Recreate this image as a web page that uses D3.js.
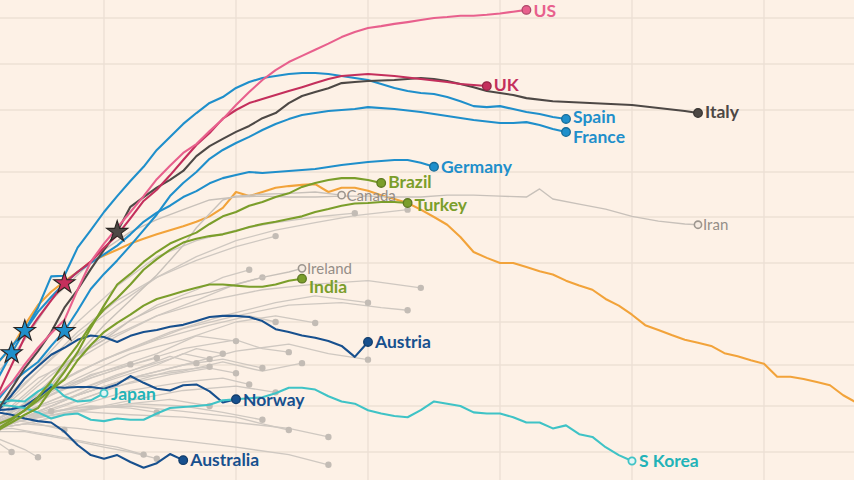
<!DOCTYPE html>
<html><head><meta charset="utf-8">
<script src="https://cdn.jsdelivr.net/npm/d3@7"></script>
<style>
html,body{margin:0;padding:0;background:#fdf1e6;overflow:hidden}
svg{display:block}
</style></head><body>
<svg id="c" width="854" height="480"></svg>
<script>
// ---------- DATA (days since 3 daily deaths, daily deaths on log scale) ----------
const xTicks = [10, 20, 30, 40, 50, 60];
const yTicks = [2000, 1000, 500, 200, 100, 50, 20, 10, 5, 2];

const US = [[0,3],[2,5.9],[3,7.4],[4,10.1],[5,13.2],[6,16.7],[7,20.6],[8,33],[9,51],[10,67],[11,85],[12,108],[13,138],[14,179],[15,219],[16,265],[17,302],[18,366],[19,437],[20,539],[21,655],[22,786],[23,913],[24,1030],[25,1130],[26,1240],[27,1360],[28,1500],[29,1620],[30,1720],[31,1770],[32,1830],[33,1880],[34,1940],[35,2000],[36,2030],[37,2070],[38,2070],[39,2100],[40,2140],[41,2200],[42,2260]];
const UK = [[0,3],[2,6.2],[4,15.7],[5,21.3],[6,28],[7,36.5],[8,43.5],[9,51],[10,63],[11,76],[12,98],[13,128],[14,152],[15,190],[16,239],[17,298],[18,356],[19,440],[20,500],[21,555],[22,590],[23,627],[24,665],[25,705],[26,750],[27,797],[28,835],[30,860],[32,835],[34,797],[36,762],[37,740],[38,729],[39,717]];
const Italy = [[0,3],[2,4.7],[4,9.5],[5,12.5],[6,17],[7,25],[8,33],[9,45.5],[10,61],[11,80],[12,117],[13,136],[14,157],[15,177],[16,203],[17,253],[18,293],[19,326],[20,362],[21,395],[22,443],[23,478],[24,555],[25,617],[26,655],[27,695],[28,750],[29,762],[30,774],[32,786],[34,810],[35,797],[36,774],[37,740],[38,705],[39,665],[40,646],[41,627],[42,598],[44,570],[46,560],[48,550],[50,539],[52,515],[54,493],[55,478]];
const Spain = [[0,3],[2,8.1],[3,12.1],[4,17.5],[5,25],[6,40.6],[7,41],[8,63],[9,82],[10,108],[11,138],[12,174],[13,216],[14,277],[15,336],[16,407],[17,478],[18,556],[19,608],[20,697],[21,762],[22,810],[23,835],[24,860],[25,873],[26,873],[27,860],[28,835],[29,810],[30,786],[31,740],[32,697],[33,665],[34,646],[35,637],[36,608],[37,570],[38,530],[39,522],[40,530],[41,507],[42,486],[43,471],[44,451],[45,438]];
const France = [[0,3],[2,5.6],[3,7.4],[4,8.9],[5,10.5],[6,13.6],[7,17.3],[8,23.8],[9,33.4],[10,42.2],[11,52],[12,65],[13,82],[14,104],[15,138],[16,169],[17,200],[18,243],[19,277],[20,307],[21,336],[22,372],[23,407],[24,437],[25,464],[26,478],[27,493],[28,500],[29,507],[30,522],[32,507],[34,486],[36,457],[38,431],[40,413],[41,413],[42,418],[43,401],[44,378],[45,361]];
const Germany = [[0,3],[2,10.5],[4,17.3],[5,23.4],[6,29.5],[7,36.5],[8,43.5],[9,50],[10,57],[11,65],[12,77],[13,93],[14,107],[15,119],[16,136],[17,149],[18,168],[19,182],[20,191],[21,200],[22,197],[24,203],[26,209],[28,222],[30,232],[32,239],[33,239],[34,229],[35,216]];
const Brazil = [[0,3],[2,3.1],[3,3.6],[4,4.2],[5,4.8],[6,6.6],[7,8.9],[8,12.3],[9,18.2],[10,25.8],[11,35.8],[12,42.2],[13,50.8],[14,59],[15,67],[16,73],[17,79],[18,90],[19,101],[20,108],[21,119],[22,126],[23,136],[24,144],[25,159],[26,169],[27,177],[28,182],[29,182],[30,177],[31,169]];
const Turkey = [[0,3],[2,3.2],[3,3.8],[4,4.6],[5,5.8],[6,7.6],[7,10.4],[8,13.8],[9,19],[10,24.3],[11,29],[12,35.8],[13,45],[14,53],[15,61],[16,68],[17,72],[18,75],[19,77],[20,81],[21,86],[22,90],[23,93],[24,97],[25,101],[26,108],[27,113],[28,119],[29,123],[30,124],[31,126],[32,126],[33,124]];
const India = [[0,3],[2,3.5],[3,3.9],[4,4.6],[5,5.5],[6,6.6],[7,7.8],[8,10.8],[9,13.8],[10,17],[11,19.7],[12,22.4],[13,25.8],[14,28.6],[15,30.3],[16,32.2],[17,34],[18,35.8],[19,35.8],[20,35.2],[21,34.6],[22,34.6],[23,35.8],[24,38],[25,39.2]];
const Canada = [[0,3],[2,3],[4,4.6],[6,7.1],[8,11.8],[10,19],[12,28],[14,41.5],[16,65],[17,85],[18,105],[19,130],[20,138],[22,142],[24,144],[26,147],[28,140]];
const Iran = [[0,3],[2,8.9],[4,15],[6,28],[8,41.5],[10,61],[12,80],[14,96],[16,112],[18,130],[20,136],[22,138],[24,136],[26,136],[28,138],[30,138],[32,136],[34,136],[36,140],[38,140],[40,138],[42,136],[43,154],[44,132],[46,122],[48,113],[50,101],[52,94],[54,90],[55,89]];
const Ireland = [[0,3],[2,3.1],[4,5.1],[6,7.8],[8,11.8],[10,15],[12,20.6],[14,25],[16,29],[18,31.8],[20,35.8],[22,40],[24,43.5],[25,46]];
const Austria = [[0,3],[2,4.6],[3,6],[4,8],[5,9.8],[6,11.8],[7,13.2],[8,15],[9,16.1],[10,15.7],[11,14.5],[12,16],[13,17],[14,17.6],[15,18.5],[16,19.1],[17,20.3],[18,21.6],[19,22],[20,22],[21,21.6],[22,20.3],[23,17.8],[24,17],[25,16.1],[26,15.5],[27,14.7],[28,13.6],[29,11.4],[30,14.5]];
const Norway = [[0,3],[2,4.6],[3,4.7],[4,5],[5,5.8],[6,6.9],[7,6.8],[8,6.9],[9,6.9],[10,6.7],[11,7.2],[12,8.3],[13,7.4],[14,6.7],[15,6.5],[16,7.1],[17,7.2],[18,6.4],[19,5.3],[20,5.6]];
const Japan = [[0,3],[2,5.3],[3,5.5],[4,5.4],[5,6.4],[6,7.2],[7,5.9],[8,5.4],[9,5.5],[10,6.2]];
const SKorea = [[0,3],[2,5.1],[3,5],[4,4.8],[5,4.4],[6,3.9],[7,4.2],[8,4.3],[9,3.8],[10,3.7],[11,3.9],[12,3.8],[13,3.8],[14,4.3],[15,4.8],[16,4.9],[17,5],[18,5.1],[19,5.5],[20,5.6],[21,5.7],[22,5.8],[23,6.2],[24,6.8],[25,6.8],[26,6.6],[27,5.9],[28,5.4],[29,5.2],[30,4.6],[31,4.3],[32,4.1],[33,4],[34,4.6],[35,5.4],[36,5.2],[37,5],[38,4.4],[39,4.3],[40,4.3],[41,4],[42,3.6],[43,3.6],[44,3.2],[45,3.4],[46,2.85],[47,2.7],[48,2.2],[49,1.88],[50,1.67]];
const Australia = [[0,3],[2,4.4],[3,4.2],[4,3.9],[5,3.7],[6,3.6],[7,3],[8,2.3],[9,1.88],[10,1.75],[11,1.88],[12,1.64],[13,1.46],[14,1.6],[15,1.92],[16,1.7]];
const China = [[0,3],[2,10.5],[3,13.2],[4,19],[5,26],[6,32],[7,37.6],[8,43.5],[9,51],[10,56],[11,61],[12,67],[13,72],[14,77],[15,82],[16,87],[17,93],[18,101],[19,115],[20,147],[21,138],[22,147],[23,157],[24,161],[25,164],[26,166],[27,147],[28,157],[29,157],[30,150],[31,140],[32,132],[33,124],[34,112],[35,100],[36,89],[37,74],[38,59],[39,54],[40,50],[41,50],[42,47],[43,44],[44,41.8],[45,38],[46,35.2],[47,33],[48,28.6],[49,25.8],[50,22.4],[51,19],[52,17.6],[53,16.2],[54,15],[55,14.3],[56,13.6],[57,12.1],[58,11.5],[59,10.8],[60,10.2],[61,8.2],[62,8.2],[63,7.9],[64,7.5],[65,7.1],[66,6],[67,5.3],[68,4.8]];

// other (unlabelled) countries
const others = [
  [[0,3],[2,3.8],[5,7],[8,12],[11,18],[14,26],[17,33],[19,40],[21,45]],
  [[0,3],[2,4.5],[5,8],[8,11],[11,16],[14,22],[17,28],[20,36],[22,40]],
  [[0,3],[3,5],[6,9],[10,15],[14,22],[18,28],[22,33],[26,36],[30,38],[34,34]],
  [[0,3],[3,4.5],[7,8],[11,12],[15,17],[19,22],[23,27],[26,30],[30,27]],
  [[0,3],[4,5],[8,9],[12,13],[16,18],[20,22],[24,26],[28,27],[31,25],[33,24]],
  [[0,3],[3,4],[6,7],[10,11],[14,15],[18,19],[21,22],[23,20]],
  [[0,3],[4,5],[8,8],[12,12],[16,15],[20,20],[23,22],[26,19.7]],
  [[0,3],[3,4.5],[6,6.5],[10,9],[14,12],[17,16],[20,14.7]],
  [[0,3],[4,5],[8,7.5],[12,10],[16,13],[20,15],[22,13],[24,12.3]],
  [[0,3],[3,4],[7,6],[11,8.5],[15,11],[17,13],[19,12]],
  [[0,3],[3,3.6],[7,5.5],[10,7.5],[14,10],[16,12],[18,11]],
  [[0,3],[4,4.5],[8,6.5],[12,9],[15,11.5],[17,10.3]],
  [[0,3],[4,4],[8,5.5],[12,7.5],[15,9],[18,9.7]],
  [[0,3],[4,4],[8,6],[12,8],[16,10],[19,11],[22,9.5]],
  [[0,3],[4,4.5],[8,6],[12,8],[16,9],[19,10.5],[22,9],[25,10.3]],
  [[0,3],[4,4],[8,6],[12,8],[16,10],[20,12.5],[24,14],[27,12],[30,10.9]],
  [[0,3],[3,3.5],[7,5],[11,7],[15,8.5],[18,9.5],[20,8.7]],
  [[0,3],[4,3.8],[8,5],[12,6.5],[16,7.5],[19,8],[21,7.2]],
  [[0,3],[4,3.5],[8,4.5],[12,5.5],[16,6.5],[20,7],[23,6.3]],
  [[0,3],[4,3.5],[8,4.5],[12,5.2],[15,5.6],[18,5]],
  [[0,3],[3,3.5],[6,4.5],[9,5],[12,4.8],[14,4.4]],
  [[0,3],[3,3.8],[6,4.5]],
  [[0,3],[4,4],[8,4.8],[12,5],[16,4.5],[20,4],[22,3.5],[24,3.1]],
  [[0,3],[4,3.8],[8,4.5],[12,4.2],[16,4],[20,3.6],[24,3.2],[27,2.7]],
  [[0,3],[3,3.8],[5,3.5],[7,3.1]],
  [[0,3],[2,2.4],[3,2]],
  [[0,3],[2,2.6],[4,2.1],[5,1.8]],
  [[0,3],[3,3.2],[6,2.8],[9,2.4],[11,2.2],[13,1.9]],
  [[0,3],[4,3],[7,2.6],[10,2.2],[12,2],[14,1.75]],
  [[0,3],[4,3.5],[8,3.2],[12,2.8],[16,2.5],[20,2.2],[24,1.9],[27,1.55]],
  [[0,3],[2,5],[5,10],[8,20],[11,35],[14,55],[17,70],[20,82],[23,92],[26,100],[29,106]],
  [[0,3],[2,4.5],[5,9],[8,17],[11,28],[14,40],[17,52],[20,64],[23,75]],
  [[0,3],[3,4],[6,6],[9,8],[12,10],[14,11.2]],
  [[0,3],[3,4.2],[6,6],[9,8.5],[12,10.1]],
  [[0,3],[2,5],[5,9],[8,16],[11,26],[14,40],[17,55],[20,70],[23,82],[26,92],[29,102],[33,112]],
  [[0,3],[4,3.8],[8,4.6],[12,5.2],[16,5],[19,4.4],[22,3.8]]
];

// lockdown markers: country, day
const lockdownCountries = ["Spain", "Germany", "UK", "France", "Italy"];
const lockdownDays = [3, 4, 7, 7, 11];

// ---------- STYLES ----------
const BLUE = "#1f8fcb", NAVY = "#17508e", GREEN = "#7b9e2b", TEAL = "#3fc3c6",
      GREYLAB = "#958e88", ORANGE = "#f2a33a";

const named = [
  {name:"China", data:China, color:ORANGE, label:false},
  {name:"Canada", data:Canada, color:"#bdb6b0", grey:true, dy:0},
  {name:"Iran", data:Iran, color:"#bdb6b0", grey:true, dy:0},
  {name:"Ireland", data:Ireland, color:"#bdb6b0", grey:true, dy:0},
  {name:"Australia", data:Australia, color:NAVY, dy:0},
  {name:"Norway", data:Norway, color:NAVY, dy:0},
  {name:"Austria", data:Austria, color:NAVY, dy:0},
  {name:"S Korea", data:SKorea, color:TEAL, text:"#22b3b8", hollow:true, dy:0},
  {name:"Japan", data:Japan, color:TEAL, text:"#22b3b8", hollow:true, dy:0},
  {name:"India", data:India, color:GREEN, dy:8},
  {name:"Turkey", data:Turkey, color:GREEN, dy:1.5},
  {name:"Brazil", data:Brazil, color:GREEN, dy:-1},
  {name:"Germany", data:Germany, color:BLUE, dy:0},
  {name:"France", data:France, color:BLUE, dy:5},
  {name:"Spain", data:Spain, color:BLUE, dy:-2.5},
  {name:"Italy", data:Italy, color:"#4d4845", dy:-1},
  {name:"UK", data:UK, color:"#c42f5c", dy:-1},
  {name:"US", data:US, color:"#e8608d", dy:0.5}
];

// ---------- CHART ----------
const svg = d3.select("#c");
svg.append("rect").attr("width",854).attr("height",480).attr("fill","#fdf1e6");

const x = d3.scaleLinear().domain([xTicks[0], xTicks[xTicks.length-1]]).range([104, 764]);
const y = d3.scaleLog().domain(yTicks).range([18, 64, 110, 172, 217, 263, 322, 365, 406, 452]);

// grid
svg.append("g").selectAll("line").data(yTicks).join("line")
  .attr("x1",0).attr("x2",854).attr("y1",d=>y(d)).attr("y2",d=>y(d))
  .attr("stroke","#ece0d5").attr("stroke-width",1.4);
svg.append("g").selectAll("line").data(xTicks).join("line")
  .attr("y1",0).attr("y2",480).attr("x1",d=>x(d)).attr("x2",d=>x(d))
  .attr("stroke","#ece0d5").attr("stroke-width",1.4);

const line = d3.line().x(d=>x(d[0])).y(d=>y(d[1]));

// other countries
const og = svg.append("g");
og.selectAll("path").data(others).join("path")
  .attr("d", line).attr("fill","none").attr("stroke","#cfc8c1")
  .attr("stroke-width",1.3).attr("stroke-linejoin","round");
og.selectAll("circle").data(others).join("circle")
  .attr("cx", d=>x(d[d.length-1][0])).attr("cy", d=>y(d[d.length-1][1]))
  .attr("r",3.2).attr("fill","#c3bcb5");

// named countries
const ng = svg.append("g");
named.forEach(s => {
  ng.append("path").datum(s.data).attr("d", line).attr("fill","none")
    .attr("stroke", s.grey ? "#c8c1ba" : s.color)
    .attr("stroke-width", s.grey ? 1.4 : 2.1)
    .attr("stroke-linejoin","round");
});

// lockdown stars
const star = d3.symbol().type(d3.symbolStar).size(140);
lockdownCountries.forEach((c,i) => {
  const s = named.find(n => n.name === c);
  const pt = s.data.find(p => p[0] === lockdownDays[i]);
  svg.append("path").attr("d", star())
    .attr("transform", `translate(${x(pt[0])},${y(pt[1])})`)
    .attr("fill", s.color).attr("stroke","#2a2522").attr("stroke-width",1.1);
});

// end dots and labels
named.forEach(s => {
  if (s.label === false) return;
  const last = s.data[s.data.length-1];
  const cx = x(last[0]), cy = y(last[1]);
  if (s.grey) {
    svg.append("circle").attr("cx",cx).attr("cy",cy).attr("r",3.6)
      .attr("fill","#f6ebe1").attr("stroke","#9d968f").attr("stroke-width",1.6);
  } else if (s.hollow) {
    svg.append("circle").attr("cx",cx).attr("cy",cy).attr("r",3.6)
      .attr("fill","#e2f6f5").attr("stroke",s.color).attr("stroke-width",1.8);
  } else {
    svg.append("circle").attr("cx",cx).attr("cy",cy).attr("r",4.3)
      .attr("fill",s.color).attr("stroke",d3.color(s.color).darker(0.8)).attr("stroke-width",1.3);
  }
  svg.append("text").attr("x", cx + (s.grey ? 5 : 7)).attr("y", cy + s.dy)
    .attr("dy","0.36em")
    .attr("font-family","Lato, 'Open Sans', sans-serif")
    .attr("font-weight", s.grey ? 400 : 700)
    .attr("font-size", s.grey ? 15 : 17.5)
    .attr("fill", s.grey ? GREYLAB : (s.text || s.color))
    .text(s.name);
});
</script>
</body></html>
